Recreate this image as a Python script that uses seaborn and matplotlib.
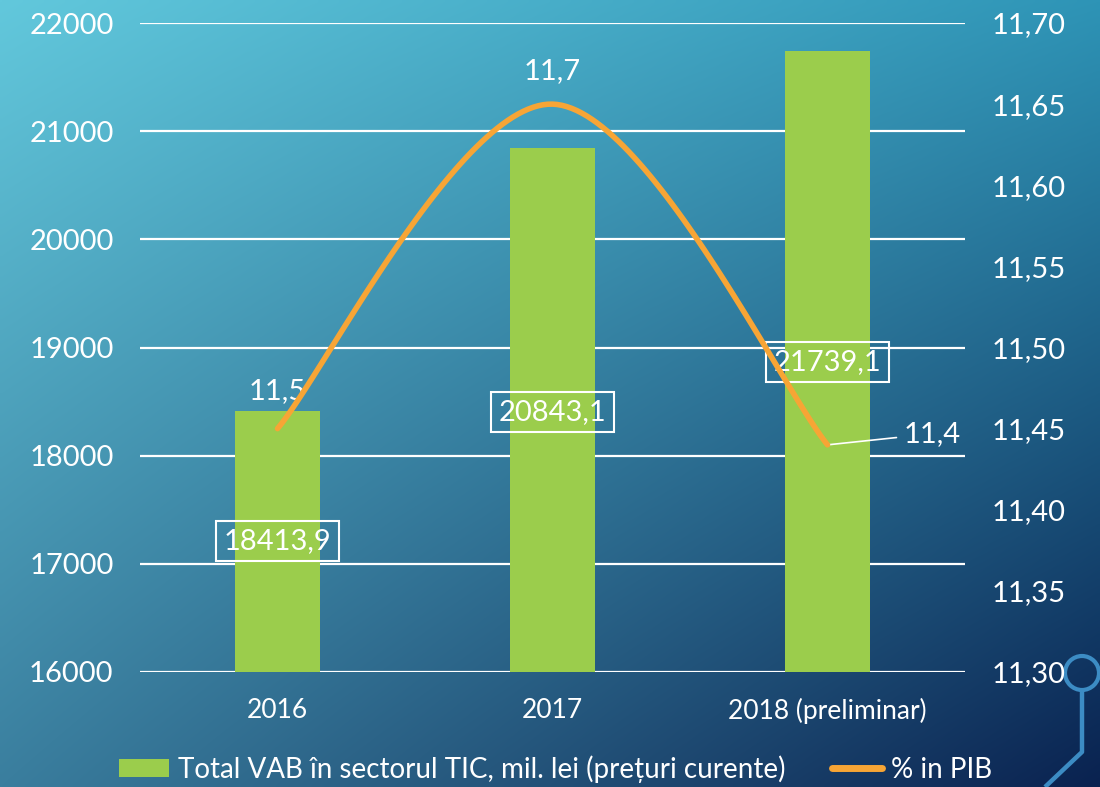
import numpy as np
import pandas as pd
import matplotlib
matplotlib.use("Agg")
import matplotlib.pyplot as plt
import seaborn as sns
from matplotlib.patches import Circle, Patch
from matplotlib.lines import Line2D

# ---------------- data ----------------
years = ["2016", "2017", "2018 (preliminar)"]
vab = [18413.9, 20843.1, 21739.1]
vab_labels = ["18413,9", "20843,1", "21739,1"]
pib = [11.45, 11.65, 11.44]
pib_labels = ["11,5", "11,7", "11,4"]
left_ticks = [16000, 17000, 18000, 19000, 20000, 21000, 22000]
right_ticks = [11.30, 11.35, 11.40, 11.45, 11.50, 11.55, 11.60, 11.65, 11.70]
right_tick_labels = ["11,30", "11,35", "11,40", "11,45", "11,50", "11,55", "11,60", "11,65", "11,70"]
legend_labels = ["Total VAB în sectorul TIC, mil. lei (prețuri curente)", "% in PIB"]

# ---------------- style ----------------
sns.set_style("white")
plt.rcParams["font.family"] = ["Lato", "DejaVu Sans"]

BAR = "#9BCD4C"
ORANGE = "#F7A535"
W, H = 1100, 787

fig = plt.figure(figsize=(11, 7.87), dpi=100)

# background gradient
bg = fig.add_axes([0, 0, 1, 1], zorder=-10)
TL = np.array([0x62, 0xC8, 0xDC]) / 255
TR = np.array([0x2E, 0x94, 0xB6]) / 255
BL = np.array([0x3A, 0x7E, 0x9E]) / 255
BR = np.array([0x0A, 0x22, 0x50]) / 255
yy, xx = np.mgrid[0:1:200j, 0:1:280j]
img = (TL * ((1 - xx) * (1 - yy))[..., None] + TR * (xx * (1 - yy))[..., None]
       + BL * ((1 - xx) * yy)[..., None] + BR * (xx * yy)[..., None])
bg.imshow(img, aspect="auto", extent=[0, W, H, 0], interpolation="bilinear")
bg.set_xlim(0, W)
bg.set_ylim(H, 0)
bg.axis("off")
deco = "#3C8CC4"
bg.add_patch(Circle((1082, 673), 17, fill=False, ec=deco, lw=3))
bg.plot([1082, 1082, 1045], [690, 752, 787], color=deco, lw=3.2, solid_capstyle="butt")

# main axes
ax = fig.add_axes([140 / W, 1 - 672 / H, 825 / W, 649 / H])
ax.patch.set_alpha(0)
df = pd.DataFrame({"year": years, "vab": vab})
sns.barplot(data=df, x="year", y="vab", color=BAR, saturation=1, width=0.31, ax=ax,
            edgecolor="none", linewidth=0)
ax.set_ylim(16000, 22000)
ax.set_xlim(-0.5, 2.5)
ax.set_yticks(left_ticks)
ax.set_axisbelow(True)
ax.grid(axis="y", color="white", lw=1.6)
ax.grid(axis="x", visible=False)
ax.set_xlabel("")
ax.set_ylabel("")
for s in ax.spines.values():
    s.set_visible(False)
ax.tick_params(axis="y", length=0, labelsize=21, labelcolor="white", pad=19)
ax.tick_params(axis="x", length=0, labelsize=19, labelcolor="white", pad=19)

# bar value labels (boxed)
label_frac = [0.2018, 0.4006, 0.4777]
for i, (lab, fy) in enumerate(zip(vab_labels, label_frac)):
    ax.text(i, 16000 + fy * 6000, lab, ha="center", va="center", color="white",
            fontsize=21, zorder=6,
            bbox=dict(boxstyle="square,pad=0.25", fc="none", ec="white", lw=1.5))

# secondary axis with smoothed line
ax2 = ax.twinx()
ax2.patch.set_alpha(0)
ax2.set_ylim(11.30, 11.70)
ax2.set_yticks(right_ticks, right_tick_labels)
for s in ax2.spines.values():
    s.set_visible(False)
ax2.tick_params(axis="y", length=0, labelsize=21, labelcolor="white", pad=19)

px = np.arange(len(pib), dtype=float)
py = np.array(pib)
ext_x = np.r_[px[0], px, px[-1]]
ext_y = np.r_[py[0], py, py[-1]]
cx, cy = [], []
t = np.linspace(0, 1, 60)
for k in range(len(px) - 1):
    p0 = np.array([px[k], py[k]])
    p3 = np.array([px[k + 1], py[k + 1]])
    c1 = p0 + (np.array([ext_x[k + 2], ext_y[k + 2]]) - np.array([ext_x[k], ext_y[k]])) / 6
    c2 = p3 - (np.array([ext_x[k + 3], ext_y[k + 3]]) - np.array([ext_x[k + 1], ext_y[k + 1]])) / 6
    b = ((1 - t) ** 3)[:, None] * p0 + (3 * (1 - t) ** 2 * t)[:, None] * c1 \
        + (3 * (1 - t) * t ** 2)[:, None] * c2 + (t ** 3)[:, None] * p3
    cx.extend(b[:, 0]); cy.extend(b[:, 1])
line_df = pd.DataFrame({"x": cx, "y": cy})
sns.lineplot(data=line_df, x="x", y="y", sort=False, estimator=None, ax=ax2,
             color=ORANGE, lw=4, solid_capstyle="round", zorder=5)
ax2.set_xlim(-0.5, 2.5)
ax2.set_xlabel("")
ax2.set_ylabel("")

# line labels
ax2.annotate(pib_labels[0], (0, pib[0]), xytext=(0, 27), textcoords="offset points",
             ha="center", va="center", color="white", fontsize=21)
ax2.annotate(pib_labels[1], (1, pib[1]), xytext=(0, 24), textcoords="offset points",
             ha="center", va="center", color="white", fontsize=21)
ax2.annotate(pib_labels[2], (2, pib[2]), xytext=(55, 8), textcoords="offset points",
             ha="left", va="center", color="white", fontsize=21,
             arrowprops=dict(arrowstyle="-", color="white", lw=1.2, shrinkA=3, shrinkB=0))

# legend
handles = [Patch(facecolor=BAR, edgecolor="none"),
           Line2D([], [], color=ORANGE, lw=5)]
fig.legend(handles=handles, labels=legend_labels, loc="center",
           bbox_to_anchor=(0.505, 0.023), ncol=2, frameon=False, fontsize=20,
           labelcolor="white", handlelength=1.8, handleheight=0.6,
           handletextpad=0.3, columnspacing=1.7)

fig.savefig("out.png", dpi=100)
